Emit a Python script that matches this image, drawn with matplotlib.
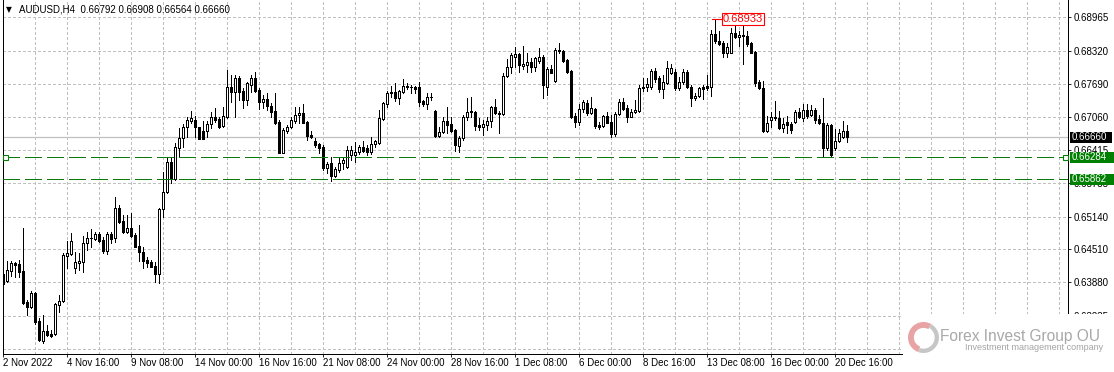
import matplotlib
matplotlib.use('Agg')
import matplotlib.pyplot as plt
from matplotlib.patches import Rectangle, Wedge
from matplotlib.transforms import blended_transform_factory

# AUDUSD H4 candles, 2 Nov 2022 00:00 .. 21 Dec 2022 04:00
opens = [
    0.64039, 0.63911, 0.64103, 0.64245, 0.64225, 0.64097, 0.63496, 0.63411, 0.63669, 0.63131,
    0.62758, 0.62939, 0.62887, 0.62881, 0.63450, 0.63527, 0.64391, 0.64423, 0.64149, 0.64256,
    0.64275, 0.64629, 0.64725, 0.64711, 0.64807, 0.64692, 0.64487, 0.64807, 0.64725, 0.65301,
    0.65057, 0.64846, 0.64917, 0.64788, 0.64577, 0.64467, 0.64308, 0.64264, 0.64193, 0.64033,
    0.65281, 0.65608, 0.66195, 0.65857, 0.66453, 0.66645, 0.66856, 0.66983, 0.66996, 0.66856,
    0.66791, 0.66779, 0.66913, 0.67048, 0.67009, 0.66881, 0.67059, 0.67635, 0.67539, 0.67797,
    0.67553, 0.67380, 0.67668, 0.67797, 0.67572, 0.67347, 0.67393, 0.67271, 0.67175, 0.66963,
    0.66368, 0.66791, 0.66867, 0.66983, 0.67092, 0.67136, 0.66958, 0.66708, 0.66593, 0.66529,
    0.66483, 0.66069, 0.66165, 0.65921, 0.66036, 0.66165, 0.66088, 0.66320, 0.66320, 0.66387,
    0.66472, 0.66453, 0.66387, 0.66529, 0.66549, 0.67009, 0.67303, 0.67509, 0.67539, 0.67413,
    0.67539, 0.67635, 0.67624, 0.67624, 0.67624, 0.67361, 0.67303, 0.67432, 0.67169, 0.66689,
    0.66771, 0.66983, 0.66919, 0.66804, 0.66497, 0.66645, 0.67048, 0.67155, 0.67155, 0.66900,
    0.66867, 0.66900, 0.66983, 0.67240, 0.67136, 0.67111, 0.67847, 0.68008, 0.68211, 0.68263,
    0.68033, 0.68052, 0.68115, 0.68020, 0.68135, 0.68211, 0.67635, 0.67970, 0.67751, 0.68340,
    0.68327, 0.68148, 0.67943, 0.67073, 0.66963, 0.67201, 0.67317, 0.67136, 0.67201, 0.66900,
    0.66881, 0.67073, 0.66963, 0.66727, 0.67111, 0.67347, 0.67221, 0.67059, 0.67155, 0.67169,
    0.67605, 0.67624, 0.67624, 0.67937, 0.67797, 0.67585, 0.67712, 0.67893, 0.67923, 0.67605,
    0.67731, 0.67923, 0.67635, 0.67413, 0.67457, 0.67624, 0.67649, 0.67635, 0.68647, 0.68520,
    0.68469, 0.68288, 0.68288, 0.68672, 0.68595, 0.68628, 0.68609, 0.68469, 0.68307, 0.67731,
    0.67605, 0.66791, 0.66996, 0.67059, 0.67029, 0.66837, 0.66963, 0.66919, 0.66963, 0.67155,
    0.67029, 0.67188, 0.67092, 0.67188, 0.67009, 0.66933, 0.66453, 0.66900, 0.66453, 0.66599,
    0.66664, 0.66792,
]
highs = [
    0.64078, 0.64289, 0.64289, 0.64275, 0.64308, 0.64922, 0.63540, 0.63713, 0.63700, 0.63189,
    0.63252, 0.63060, 0.62964, 0.63477, 0.63636, 0.64437, 0.64679, 0.64832, 0.64467, 0.64448,
    0.64769, 0.64851, 0.64897, 0.64851, 0.64851, 0.64744, 0.64851, 0.64851, 0.65512, 0.65364,
    0.65172, 0.65172, 0.65216, 0.64821, 0.64980, 0.64552, 0.64371, 0.64308, 0.64275, 0.65301,
    0.66003, 0.66291, 0.66291, 0.66560, 0.66837, 0.66919, 0.67059, 0.67169, 0.67073, 0.66867,
    0.66977, 0.66977, 0.67155, 0.67221, 0.67048, 0.67251, 0.67960, 0.67860, 0.67860, 0.67841,
    0.67605, 0.67731, 0.67860, 0.67923, 0.67605, 0.67476, 0.67509, 0.67317, 0.67509, 0.66996,
    0.66837, 0.66900, 0.67048, 0.67251, 0.67251, 0.67303, 0.66977, 0.66791, 0.66645, 0.66560,
    0.66516, 0.66195, 0.66291, 0.66100, 0.66261, 0.66291, 0.66497, 0.66497, 0.66579, 0.66516,
    0.66599, 0.66516, 0.66664, 0.66610, 0.67188, 0.67347, 0.67559, 0.67649, 0.67701, 0.67572,
    0.67777, 0.67701, 0.67668, 0.67649, 0.67731, 0.67380, 0.67520, 0.67520, 0.67188, 0.66867,
    0.67059, 0.67251, 0.67048, 0.66817, 0.66689, 0.67092, 0.67413, 0.67443, 0.67175, 0.67029,
    0.66996, 0.67048, 0.67265, 0.67393, 0.67175, 0.67893, 0.68161, 0.68277, 0.68403, 0.68288,
    0.68417, 0.68277, 0.68181, 0.68211, 0.68373, 0.68240, 0.68020, 0.68052, 0.68373, 0.68480,
    0.68340, 0.68161, 0.67960, 0.67125, 0.67303, 0.67380, 0.67380, 0.67432, 0.67221, 0.66963,
    0.67092, 0.67155, 0.67092, 0.67155, 0.67393, 0.67413, 0.67284, 0.67201, 0.67380, 0.67668,
    0.67797, 0.67797, 0.67970, 0.67989, 0.67841, 0.67860, 0.68135, 0.68071, 0.67970, 0.67827,
    0.67970, 0.67960, 0.67668, 0.67509, 0.67624, 0.67668, 0.67860, 0.68724, 0.68933, 0.68710,
    0.68519, 0.68469, 0.68757, 0.68853, 0.68710, 0.68820, 0.68710, 0.68499, 0.68327, 0.67764,
    0.67751, 0.67073, 0.67155, 0.67367, 0.67175, 0.67029, 0.67073, 0.66963, 0.67188, 0.67221,
    0.67303, 0.67303, 0.67284, 0.67221, 0.67092, 0.67413, 0.66933, 0.66919, 0.66817, 0.66817,
    0.66983, 0.66908,
]
lows = [
    0.63828, 0.63886, 0.64007, 0.63976, 0.63976, 0.63463, 0.63246, 0.63392, 0.63073, 0.62758,
    0.62720, 0.62849, 0.62835, 0.62868, 0.63315, 0.63507, 0.64149, 0.64404, 0.64064, 0.64116,
    0.64072, 0.64500, 0.64552, 0.64692, 0.64648, 0.64437, 0.64423, 0.64629, 0.64660, 0.65013,
    0.64832, 0.64832, 0.64755, 0.64552, 0.64295, 0.64149, 0.64168, 0.64168, 0.63891, 0.63861,
    0.65128, 0.65594, 0.65781, 0.65844, 0.66291, 0.66472, 0.66675, 0.66933, 0.66675, 0.66625,
    0.66625, 0.66664, 0.66837, 0.66963, 0.66848, 0.66867, 0.67029, 0.67347, 0.67059, 0.67380,
    0.67221, 0.67284, 0.67539, 0.67539, 0.67201, 0.67221, 0.67188, 0.67059, 0.66919, 0.66357,
    0.66357, 0.66752, 0.66837, 0.66933, 0.66933, 0.66933, 0.66610, 0.66645, 0.66483, 0.66368,
    0.66036, 0.65973, 0.65831, 0.65908, 0.66003, 0.66050, 0.66069, 0.66230, 0.66195, 0.66343,
    0.66387, 0.66320, 0.66343, 0.66483, 0.66535, 0.66996, 0.67251, 0.67443, 0.67367, 0.67303,
    0.67509, 0.67585, 0.67509, 0.67509, 0.67265, 0.67265, 0.67201, 0.67380, 0.66675, 0.66664,
    0.66741, 0.66741, 0.66771, 0.66407, 0.66387, 0.66610, 0.66996, 0.67048, 0.66804, 0.66804,
    0.66708, 0.66804, 0.66867, 0.67111, 0.66752, 0.67092, 0.67827, 0.67904, 0.68008, 0.67923,
    0.67970, 0.67923, 0.67923, 0.67943, 0.68085, 0.67413, 0.67476, 0.67893, 0.67731, 0.68277,
    0.68115, 0.67904, 0.67029, 0.66867, 0.66900, 0.67155, 0.67092, 0.67111, 0.66837, 0.66817,
    0.66856, 0.66933, 0.66664, 0.66689, 0.67092, 0.67188, 0.66963, 0.67048, 0.67125, 0.67155,
    0.67559, 0.67559, 0.67585, 0.67731, 0.67539, 0.67413, 0.67687, 0.67879, 0.67572, 0.67572,
    0.67687, 0.67605, 0.67265, 0.67380, 0.67432, 0.67393, 0.67572, 0.67457, 0.68480, 0.68436,
    0.68211, 0.68200, 0.68277, 0.68565, 0.68417, 0.68071, 0.68417, 0.68277, 0.67649, 0.67585,
    0.66771, 0.66771, 0.66867, 0.66996, 0.66817, 0.66771, 0.66752, 0.66752, 0.66933, 0.67029,
    0.66983, 0.67029, 0.67073, 0.66944, 0.66919, 0.66291, 0.66420, 0.66305, 0.66420, 0.66579,
    0.66645, 0.66564,
]
closes = [
    0.63847, 0.64116, 0.64245, 0.64206, 0.64083, 0.63488, 0.63411, 0.63669, 0.63112, 0.62772,
    0.62939, 0.62868, 0.62849, 0.63463, 0.63527, 0.64398, 0.64437, 0.64673, 0.64264, 0.64295,
    0.64629, 0.64725, 0.64734, 0.64807, 0.64679, 0.64487, 0.64807, 0.64711, 0.65301, 0.65043,
    0.64846, 0.64917, 0.64775, 0.64563, 0.64456, 0.64295, 0.64245, 0.64179, 0.64033, 0.65281,
    0.65608, 0.66195, 0.65857, 0.66472, 0.66645, 0.66867, 0.66996, 0.67029, 0.66856, 0.66637,
    0.66637, 0.66913, 0.67048, 0.66996, 0.66867, 0.67073, 0.67635, 0.67539, 0.67797, 0.67539,
    0.67380, 0.67701, 0.67797, 0.67559, 0.67347, 0.67393, 0.67271, 0.67155, 0.66944, 0.66368,
    0.66804, 0.66856, 0.66996, 0.67092, 0.67136, 0.66944, 0.66689, 0.66664, 0.66516, 0.66464,
    0.66069, 0.66145, 0.65927, 0.66050, 0.66176, 0.66230, 0.66420, 0.66420, 0.66387, 0.66472,
    0.66407, 0.66387, 0.66529, 0.66593, 0.67029, 0.67317, 0.67520, 0.67539, 0.67413, 0.67553,
    0.67649, 0.67643, 0.67630, 0.67597, 0.67347, 0.67303, 0.67432, 0.67428, 0.66689, 0.66771,
    0.66983, 0.66900, 0.66791, 0.66516, 0.66645, 0.67048, 0.67155, 0.67175, 0.66881, 0.66867,
    0.66913, 0.66983, 0.67240, 0.67125, 0.67111, 0.67847, 0.68008, 0.68240, 0.68263, 0.68052,
    0.68071, 0.68115, 0.68020, 0.68181, 0.68211, 0.67668, 0.67970, 0.67904, 0.68340, 0.68321,
    0.68135, 0.67923, 0.67048, 0.66963, 0.67201, 0.67347, 0.67125, 0.67221, 0.66881, 0.66856,
    0.67073, 0.66944, 0.66727, 0.67111, 0.67347, 0.67201, 0.67059, 0.67155, 0.67188, 0.67605,
    0.67635, 0.67687, 0.67937, 0.67777, 0.67585, 0.67731, 0.67989, 0.67989, 0.67605, 0.67731,
    0.67923, 0.67624, 0.67413, 0.67457, 0.67605, 0.67585, 0.67605, 0.68647, 0.68519, 0.68455,
    0.68277, 0.68403, 0.68672, 0.68595, 0.68628, 0.68609, 0.68455, 0.68288, 0.67712, 0.67605,
    0.66791, 0.66944, 0.67059, 0.67029, 0.66837, 0.66919, 0.66900, 0.66804, 0.67155, 0.67048,
    0.67188, 0.67073, 0.67188, 0.66996, 0.66933, 0.66453, 0.66900, 0.66320, 0.66599, 0.66741,
    0.66791, 0.66660,
]

xtick_labels = ['2 Nov 2022', '4 Nov 16:00', '9 Nov 08:00', '14 Nov 00:00', '16 Nov 16:00',
                '21 Nov 08:00', '24 Nov 00:00', '28 Nov 16:00', '1 Dec 08:00', '6 Dec 00:00',
                '8 Dec 16:00', '13 Dec 08:00', '16 Dec 00:00', '20 Dec 16:00']
ytick_values = [0.68965, 0.68320, 0.67690, 0.67060, 0.66415, 0.65785, 0.65140, 0.64510,
                0.63880, 0.63235]
extra_grid = [0.62605]

symbol = 'AUDUSD,H4'
current_price = 0.66660
levels = [0.66284, 0.65862]
high_price = 0.68933
high_index = 178

plt.rcParams['font.family'] = ['Liberation Sans', 'DejaVu Sans']
plt.rcParams['font.size'] = 7

W, H = 1114, 372
fig = plt.figure(figsize=(W / 100, H / 100), dpi=100)
ax = fig.add_axes([3 / W, 18 / H, 1065 / W, 354 / H])
ax.set_xlim(-0.1, 266.15)
ax.set_ylim(0.62503, 0.69300)

grid_color = '#c0c0c0'
green = '#008000'

# candles: wick + body, white for up bars, black for down bars
for i in range(len(opens)):
    o, h, l, c = opens[i], highs[i], lows[i], closes[i]
    ax.vlines(i, l, h, color='black', lw=0.5, antialiased=False, zorder=3)
    ax.bar(i, max(abs(c - o), 0.00001), bottom=min(o, c), width=0.5,
           color='white' if c >= o else 'black', edgecolor='black', lw=0.5,
           antialiased=False, zorder=4)

# ticks and grid
step = 16
major_x = list(range(0, step * len(xtick_labels), step))
ax.set_xticks(major_x)
ax.set_xticklabels(xtick_labels, ha='left')
ax.set_xticks([k for k in range(8, 266, 8) if k not in major_x], minor=True)
ax.yaxis.tick_right()
ax.set_yticks(ytick_values)
ax.set_yticklabels([f'{v:.5f}' for v in ytick_values])
ax.set_yticks(extra_grid, minor=True)
ax.grid(True, which='both', color=grid_color, lw=0.6, ls=(0, (3.5, 2.6)), antialiased=False)
ax.set_axisbelow(True)
ax.tick_params(which='minor', length=0)
ax.tick_params(axis='x', which='major', length=2.2, width=0.6, pad=1, labelsize=7)
ax.tick_params(axis='y', which='major', length=2.2, width=0.6, pad=2, labelsize=7)
for side in ['left', 'bottom', 'right']:
    ax.spines[side].set_linewidth(0.72)
    ax.spines[side].set_color('black')
ax.spines['top'].set_visible(False)

# price lines
ax.axhline(current_price, color=grid_color, lw=0.9, zorder=2)
for lv in levels:
    ax.axhline(lv, color='#0a7a0a', lw=0.9, ls=(0, (13, 4.3)), zorder=5, antialiased=False)
x0, x1 = ax.get_xlim()
ax.plot([x0 + 0.55, x1 - 0.8], [levels[0], levels[0]], ls='none', marker='s', ms=3.6,
        mfc='white', mec='#0a7a0a', mew=0.8, clip_on=False, zorder=6)

# right-hand price labels
trans = blended_transform_factory(fig.transFigure, ax.transData)
box_h = 0.00212
for value, face, right in [(current_price, 'black', 1112), (levels[0], green, 1114), (levels[1], green, 1114)]:
    ax.add_patch(Rectangle((1070 / W, value - box_h / 2), (right - 1070) / W, box_h,
                           transform=trans, fc=face, ec='none', clip_on=False, zorder=6))
    ax.text(1072 / W, value, f'{value:.5f}', transform=trans, color='white', fontsize=7,
            va='center', ha='left', clip_on=False, zorder=7)

# high marker
ax.plot([high_index - 0.9, high_index + 1.6], [high_price, high_price], color='red', lw=0.8, zorder=6)
ax.text(high_index + 1.8, high_price, f'{high_price:.5f}', color='red', fontsize=8,
        va='center', ha='left', zorder=7,
        bbox=dict(boxstyle='square,pad=0.08', fc='white', ec='red', lw=0.8))

# header
fig.text(6 / W, 1 - 10 / H, '\u25bc', fontfamily='DejaVu Sans', fontsize=5.5, va='center')
fig.text(19 / W, 1 - 10 / H,
         f'{symbol}  {opens[-1]:.5f} {highs[-1]:.5f} {lows[-1]:.5f} {closes[-1]:.5f}',
         fontsize=7, va='center')

# watermark
fig.add_artist(Rectangle((903 / W, 0), (W - 903) / W, 58 / H, transform=fig.transFigure,
                         fc='white', ec='none', zorder=5))
logo = fig.add_axes([908 / W, (H - 353) / H, 31 / W, 31 / H])
logo.set_zorder(6)
logo.set_xlim(-1, 1)
logo.set_ylim(-1, 1)
logo.set_aspect('equal')
logo.axis('off')
logo.add_patch(Wedge((0, 0), 1.0, 60, 250, width=0.38, fc='#e8a4a4', ec='none'))
logo.add_patch(Wedge((0, 0), 1.0, 250, 420, width=0.28, fc='#c6c6c6', ec='none'))

fig.text(940 / W, (H - 340.5) / H, 'Forex Invest Group OU', fontsize=11.2,
         color='#a8a8a8', va='baseline', zorder=7)
fig.text(965 / W, (H - 348) / H, 'Investment management company', fontsize=6.5,
         color='#a4a4a4', va='center', zorder=7)

fig.savefig('out.png', dpi=100)
